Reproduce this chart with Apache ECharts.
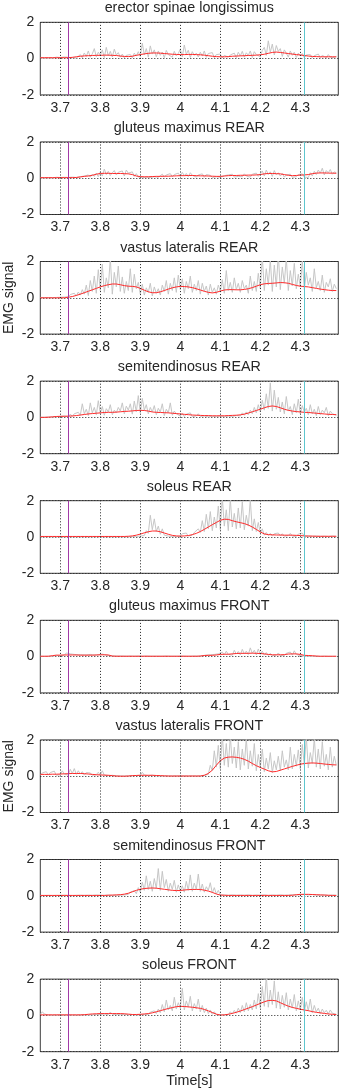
<!DOCTYPE html>
<html>
<head>
<meta charset="utf-8">
<script src="https://cdn.jsdelivr.net/npm/echarts@6.0.0/dist/echarts.min.js"></script>
<style>
  html, body { margin: 0; padding: 0; background: #ffffff; }
  #chart { width: 341px; height: 1092px; }
</style>
</head>
<body>
<div id="chart"></div>
<script>
// Muscle names, one panel each, top to bottom
const muscles = [
  'erector spinae longissimus', 'gluteus maximus REAR', 'vastus lateralis REAR',
  'semitendinosus REAR', 'soleus REAR', 'gluteus maximus FRONT',
  'vastus lateralis FRONT', 'semitendinosus FRONT', 'soleus FRONT'
];

// Time axis
const timeStart = 3.65;
const timeEnd = 4.395;
const rawStep = 0.005;   // rectified EMG sample spacing [s]
const envStep = 0.01;    // envelope sample spacing [s]
const timeTicks = [3.7, 3.8, 3.9, 4.0, 4.1, 4.2, 4.3];
const signalTicks = [-2, 0, 2];
const eventTimes = [3.722, 4.312];

// Rectified EMG (gray), one row per 0.05 s
const rawErector = [
  0.04,0.08,0.02,0.06,0.03,0.07,0.02,0.05,0.08,0.03,
  0.06,0.02,0.09,0.04,0.07,0.02,0.05,0.10,0.03,0.08,
  0.22,0.05,0.31,0.12,0.42,0.08,0.26,0.55,0.10,0.35,
  0.18,0.48,0.06,0.62,0.15,0.40,0.09,0.52,0.20,0.33,
  0.08,0.25,0.04,0.18,0.10,0.22,0.05,0.30,0.14,0.38,
  0.12,0.85,0.20,0.55,0.08,0.70,0.25,0.48,0.10,0.42,
  0.18,0.36,0.05,0.45,0.22,0.30,0.08,0.40,0.15,0.28,
  0.52,0.10,0.75,0.24,0.46,0.06,0.38,0.18,0.30,0.09,
  0.35,0.14,0.42,0.07,0.28,0.20,0.33,0.05,0.22,0.12,
  0.25,0.04,0.18,0.28,0.08,0.20,0.12,0.30,0.05,0.35,
  0.15,0.40,0.08,0.32,0.18,0.42,0.06,0.38,0.22,0.30,
  0.10,0.45,0.62,0.18,0.98,0.35,0.80,0.20,0.72,0.40,
  0.55,0.12,0.48,0.30,0.08,0.42,0.18,0.35,0.06,0.30,
  0.15,0.28,0.05,0.20,0.10,0.22,0.04,0.16,0.08,0.25,
  0.06,0.18,0.10,0.04,0.22,0.08,0.15,0.05,0.12
];
const rawGluteusRear = [
  0.02,0.05,0.01,0.04,0.02,0.06,0.01,0.03,0.05,0.02,
  0.04,0.01,0.05,0.02,0.04,0.01,0.06,0.02,0.04,0.01,
  0.08,0.03,0.12,0.05,0.18,0.06,0.22,0.10,0.28,0.08,
  0.35,0.12,0.50,0.20,0.38,0.15,0.30,0.42,0.18,0.33,
  0.22,0.40,0.12,0.45,0.28,0.18,0.35,0.10,0.25,0.06,
  0.12,0.03,0.10,0.05,0.14,0.04,0.12,0.08,0.18,0.05,
  0.15,0.22,0.06,0.18,0.10,0.25,0.08,0.20,0.12,0.28,
  0.10,0.32,0.14,0.26,0.08,0.30,0.16,0.22,0.06,0.18,
  0.12,0.24,0.05,0.20,0.10,0.16,0.04,0.14,0.08,0.12,
  0.05,0.10,0.14,0.04,0.18,0.08,0.22,0.06,0.16,0.10,
  0.20,0.08,0.24,0.12,0.18,0.06,0.22,0.14,0.28,0.10,
  0.25,0.40,0.12,0.45,0.20,0.35,0.10,0.42,0.18,0.30,
  0.12,0.26,0.06,0.18,0.10,0.22,0.05,0.15,0.08,0.20,
  0.10,0.24,0.06,0.16,0.04,0.30,0.12,0.38,0.20,0.45,
  0.28,0.55,0.18,0.42,0.30,0.48,0.22,0.35,0.30
];
const rawVastusRear = [
  0.01,0.02,0.01,0.02,0.01,0.02,0.01,0.03,0.02,0.05,
  0.03,0.08,0.04,0.12,0.06,0.18,0.08,0.25,0.10,0.32,
  0.15,0.45,0.20,0.70,0.12,0.95,0.35,1.20,0.25,1.55,
  0.40,1.85,0.30,1.10,0.55,2.20,0.20,1.40,0.60,1.75,
  0.35,1.15,0.25,0.90,0.40,1.60,0.30,1.30,0.50,0.85,
  0.20,0.75,0.15,0.55,0.30,0.80,0.10,0.60,0.25,0.50,
  0.15,0.70,0.35,0.95,0.20,0.80,0.40,1.10,0.30,1.25,
  0.45,1.05,0.25,0.90,0.50,1.20,0.30,0.75,0.40,0.95,
  0.20,0.80,0.35,0.65,0.15,0.75,0.30,0.55,0.20,0.70,
  0.35,1.00,0.25,1.50,0.40,0.85,0.30,1.10,0.45,0.80,
  0.30,0.95,0.50,0.70,0.25,1.20,0.40,0.90,0.35,1.35,
  0.50,2.30,0.40,1.60,0.70,2.10,0.35,1.80,0.60,2.40,
  0.45,1.70,0.80,2.20,0.40,1.50,0.65,1.90,0.50,1.30,
  0.60,2.10,0.45,1.40,0.70,1.10,0.35,1.60,0.55,0.90,
  0.40,1.25,0.30,0.85,0.60,1.05,0.35,0.75,0.50
];
const rawSemitendRear = [
  0.01,0.02,0.01,0.03,0.02,0.06,0.02,0.10,0.04,0.12,
  0.05,0.15,0.08,0.10,0.03,0.18,0.06,0.20,0.10,0.28,
  0.12,0.75,0.20,0.45,0.10,0.80,0.25,0.55,0.15,0.92,
  0.22,0.60,0.12,0.48,0.30,0.70,0.15,0.40,0.25,0.55,
  0.35,0.80,0.20,0.62,0.40,0.75,0.18,0.90,0.30,1.20,
  0.25,1.05,0.40,0.70,0.20,0.55,0.30,0.65,0.15,0.50,
  0.30,0.75,0.10,0.45,0.25,0.80,0.12,0.35,0.20,0.28,
  0.08,0.22,0.05,0.18,0.10,0.25,0.04,0.15,0.08,0.20,
  0.05,0.14,0.08,0.18,0.03,0.12,0.06,0.16,0.04,0.10,
  0.08,0.15,0.04,0.12,0.07,0.18,0.05,0.14,0.10,0.20,
  0.08,0.25,0.12,0.30,0.15,0.40,0.20,0.55,0.25,0.70,
  0.30,0.95,0.40,1.30,0.50,1.90,0.35,1.50,0.45,1.10,
  0.30,0.85,0.20,1.15,0.35,0.60,0.15,0.75,0.25,1.00,
  0.20,0.65,0.30,0.50,0.15,0.70,0.20,0.45,0.10,0.60,
  0.15,0.40,0.25,0.55,0.10,0.35,0.20,0.30,0.12
];
const rawSoleusRear = [
  0.01,0.02,0.01,0.02,0.01,0.03,0.01,0.02,0.01,0.02,
  0.01,0.02,0.01,0.03,0.01,0.02,0.01,0.02,0.01,0.02,
  0.01,0.02,0.01,0.02,0.01,0.03,0.01,0.02,0.01,0.02,
  0.01,0.02,0.01,0.03,0.01,0.02,0.01,0.02,0.01,0.03,
  0.01,0.02,0.01,0.02,0.01,0.03,0.02,0.05,0.03,0.08,
  0.05,0.15,0.08,0.35,0.20,1.20,0.40,1.00,0.30,0.60,
  0.15,0.45,0.10,0.20,0.05,0.10,0.03,0.06,0.02,0.12,
  0.05,0.18,0.08,0.22,0.05,0.12,0.10,0.25,0.15,0.45,
  0.25,0.90,0.30,1.25,0.45,1.40,0.35,1.10,0.50,1.70,
  0.40,2.20,0.60,1.50,0.35,2.10,0.55,1.30,0.45,1.60,
  0.50,1.95,0.40,1.20,0.60,2.05,0.35,1.00,0.30,0.80,
  0.20,0.45,0.10,0.25,0.08,0.20,0.05,0.18,0.10,0.22,
  0.06,0.18,0.04,0.15,0.08,0.20,0.05,0.12,0.03,0.16,
  0.05,0.22,0.04,0.10,0.06,0.14,0.03,0.08,0.05,0.12,
  0.03,0.09,0.04,0.11,0.02,0.07,0.05,0.13,0.03
];
const rawGluteusFront = [
  0.02,0.03,0.01,0.03,0.02,0.04,0.02,0.03,0.06,0.08,
  0.05,0.12,0.08,0.20,0.10,0.15,0.06,0.12,0.08,0.10,
  0.05,0.10,0.04,0.09,0.06,0.12,0.03,0.08,0.05,0.10,
  0.06,0.14,0.05,0.08,0.02,0.04,0.01,0.03,0.02,0.03,
  0.01,0.03,0.02,0.02,0.01,0.03,0.01,0.02,0.01,0.03,
  0.01,0.02,0.01,0.03,0.01,0.02,0.01,0.02,0.01,0.02,
  0.01,0.02,0.01,0.03,0.01,0.02,0.01,0.02,0.01,0.02,
  0.01,0.03,0.01,0.02,0.01,0.02,0.01,0.03,0.01,0.02,
  0.02,0.05,0.03,0.08,0.04,0.10,0.05,0.12,0.06,0.15,
  0.08,0.25,0.10,0.30,0.12,0.22,0.08,0.35,0.14,0.28,
  0.10,0.40,0.15,0.30,0.12,0.48,0.18,0.35,0.10,0.42,
  0.12,0.30,0.08,0.22,0.06,0.18,0.05,0.15,0.08,0.20,
  0.06,0.14,0.05,0.18,0.10,0.25,0.08,0.32,0.12,0.20,
  0.05,0.10,0.03,0.06,0.02,0.04,0.01,0.03,0.02,0.04,
  0.01,0.03,0.02,0.02,0.01,0.03,0.01,0.02,0.01
];
const rawVastusFront = [
  0.05,0.18,0.08,0.25,0.06,0.20,0.10,0.28,0.05,0.15,
  0.08,0.30,0.12,0.22,0.06,0.38,0.15,0.42,0.10,0.30,
  0.12,0.25,0.06,0.20,0.10,0.18,0.05,0.15,0.08,0.22,
  0.05,0.30,0.06,0.12,0.03,0.10,0.05,0.08,0.02,0.06,
  0.02,0.05,0.01,0.04,0.02,0.08,0.03,0.12,0.04,0.10,
  0.05,0.22,0.06,0.14,0.03,0.10,0.05,0.08,0.02,0.06,
  0.02,0.05,0.01,0.04,0.02,0.03,0.01,0.05,0.02,0.04,
  0.01,0.03,0.02,0.04,0.01,0.03,0.02,0.05,0.01,0.03,
  0.02,0.06,0.05,0.15,0.10,0.60,0.30,1.40,0.50,1.70,
  0.40,2.30,0.60,1.80,0.50,2.20,0.70,1.60,0.45,1.90,
  0.35,1.50,0.60,2.10,0.40,1.40,0.55,1.80,0.30,1.20,
  0.45,1.50,0.25,1.00,0.40,1.30,0.20,0.85,0.35,1.10,
  0.30,1.40,0.50,0.90,0.35,1.60,0.40,1.20,0.55,1.45,
  0.40,1.75,0.60,2.20,0.45,1.30,0.70,2.10,0.50,1.50,
  0.40,1.90,0.55,1.20,0.35,1.60,0.50,1.10,0.60
];
const rawSemitendFront = [
  0.02,0.04,0.01,0.03,0.02,0.05,0.01,0.04,0.02,0.06,
  0.02,0.05,0.03,0.07,0.02,0.04,0.01,0.06,0.02,0.04,
  0.03,0.06,0.02,0.05,0.03,0.08,0.02,0.06,0.04,0.10,
  0.03,0.07,0.02,0.05,0.04,0.09,0.02,0.06,0.03,0.08,
  0.04,0.10,0.05,0.14,0.08,0.20,0.10,0.28,0.12,0.45,
  0.20,0.75,0.30,1.10,0.35,0.80,0.25,0.95,0.40,1.50,
  0.30,1.35,0.45,0.90,0.25,0.70,0.35,0.85,0.20,0.60,
  0.25,0.55,0.20,0.80,0.30,1.15,0.25,0.70,0.35,1.20,
  0.25,0.65,0.20,0.50,0.30,0.72,0.15,0.45,0.10,0.30,
  0.05,0.12,0.04,0.08,0.03,0.10,0.05,0.12,0.03,0.09,
  0.04,0.11,0.03,0.08,0.05,0.13,0.02,0.07,0.04,0.10,
  0.03,0.09,0.05,0.12,0.02,0.08,0.04,0.11,0.03,0.07,
  0.05,0.12,0.03,0.09,0.04,0.14,0.06,0.10,0.04,0.12,
  0.06,0.15,0.08,0.12,0.05,0.16,0.07,0.11,0.04,0.10,
  0.03,0.08,0.05,0.12,0.02,0.07,0.04,0.09,0.03
];
const rawSoleusFront = [
  0.05,0.20,0.08,0.12,0.02,0.05,0.01,0.03,0.02,0.04,
  0.01,0.03,0.02,0.04,0.01,0.03,0.02,0.05,0.01,0.03,
  0.02,0.04,0.03,0.06,0.02,0.08,0.04,0.10,0.05,0.12,
  0.05,0.15,0.08,0.12,0.04,0.18,0.06,0.14,0.05,0.10,
  0.04,0.12,0.06,0.15,0.03,0.10,0.05,0.08,0.02,0.06,
  0.03,0.08,0.05,0.12,0.04,0.18,0.08,0.25,0.10,0.35,
  0.15,0.60,0.20,0.85,0.30,0.55,0.25,1.00,0.35,0.70,
  0.40,1.50,0.30,0.80,0.45,1.05,0.25,0.65,0.35,0.90,
  0.20,0.55,0.15,0.40,0.10,0.30,0.06,0.20,0.04,0.10,
  0.02,0.06,0.03,0.10,0.05,0.20,0.08,0.28,0.12,0.40,
  0.15,0.55,0.20,0.70,0.25,0.60,0.30,0.85,0.35,1.20,
  0.40,1.60,0.50,2.20,0.45,1.40,0.60,1.90,0.40,1.30,
  0.35,1.10,0.45,1.25,0.30,0.90,0.40,1.15,0.25,0.80,
  0.30,1.00,0.20,0.75,0.25,0.90,0.15,0.55,0.20,0.40,
  0.10,0.35,0.15,0.28,0.08,0.30,0.12,0.20,0.06
];

// Linear envelopes (red), one row per 0.1 s
const envErector = [
  0.05,0.05,0.05,0.05,0.05,0.05,0.05,0.05,0.07,0.10,
  0.13,0.15,0.16,0.17,0.18,0.18,0.19,0.19,0.18,0.17,
  0.14,0.12,0.11,0.13,0.18,0.22,0.26,0.29,0.31,0.31,
  0.30,0.28,0.26,0.24,0.23,0.22,0.22,0.23,0.23,0.22,
  0.21,0.19,0.16,0.13,0.11,0.10,0.10,0.11,0.13,0.14,
  0.15,0.16,0.17,0.18,0.19,0.21,0.24,0.29,0.34,0.36,
  0.34,0.31,0.28,0.25,0.22,0.20,0.17,0.14,0.12,0.11,
  0.10,0.10,0.10,0.10,0.10
];
const envGluteusRear = [
  0.03,0.03,0.03,0.03,0.03,0.03,0.03,0.03,0.03,0.04,
  0.07,0.10,0.12,0.16,0.22,0.26,0.27,0.27,0.26,0.26,
  0.26,0.25,0.24,0.20,0.12,0.09,0.08,0.08,0.09,0.10,
  0.10,0.11,0.11,0.12,0.13,0.14,0.14,0.15,0.15,0.14,
  0.13,0.13,0.12,0.11,0.10,0.10,0.12,0.14,0.15,0.15,
  0.16,0.16,0.17,0.17,0.18,0.20,0.24,0.26,0.26,0.25,
  0.24,0.20,0.16,0.14,0.15,0.17,0.18,0.20,0.25,0.28,
  0.29,0.29,0.28,0.28,0.27
];
const envVastusRear = [
  0.00,0.00,0.00,0.00,0.00,0.00,0.00,0.03,0.07,0.13,
  0.20,0.28,0.36,0.44,0.52,0.60,0.67,0.72,0.76,0.76,
  0.72,0.67,0.64,0.63,0.60,0.52,0.42,0.33,0.28,0.28,
  0.33,0.40,0.48,0.55,0.60,0.63,0.62,0.60,0.56,0.50,
  0.43,0.36,0.30,0.27,0.30,0.37,0.43,0.45,0.45,0.44,
  0.44,0.46,0.50,0.56,0.64,0.72,0.77,0.79,0.80,0.82,
  0.84,0.83,0.80,0.74,0.68,0.64,0.62,0.60,0.56,0.52,
  0.48,0.45,0.42,0.40,0.40
];
const envSemitendRear = [
  0.00,0.00,0.01,0.03,0.05,0.06,0.06,0.07,0.08,0.10,
  0.13,0.16,0.19,0.21,0.23,0.25,0.27,0.28,0.28,0.29,
  0.31,0.33,0.34,0.36,0.38,0.39,0.38,0.35,0.30,0.28,
  0.27,0.26,0.25,0.23,0.21,0.19,0.17,0.15,0.13,0.12,
  0.11,0.10,0.10,0.09,0.09,0.09,0.09,0.10,0.11,0.12,
  0.14,0.18,0.24,0.31,0.38,0.45,0.53,0.60,0.63,0.60,
  0.53,0.45,0.39,0.35,0.32,0.30,0.28,0.27,0.25,0.23,
  0.21,0.19,0.17,0.16,0.15
];
const envSoleusRear = [
  0.03,0.03,0.03,0.03,0.03,0.03,0.03,0.03,0.03,0.03,
  0.03,0.03,0.03,0.03,0.03,0.03,0.03,0.03,0.03,0.03,
  0.03,0.03,0.04,0.06,0.10,0.16,0.23,0.29,0.33,0.33,
  0.29,0.22,0.15,0.09,0.06,0.05,0.06,0.08,0.13,0.20,
  0.30,0.42,0.55,0.68,0.80,0.92,0.98,0.97,0.90,0.84,
  0.79,0.74,0.66,0.55,0.42,0.28,0.17,0.13,0.12,0.11,
  0.11,0.10,0.10,0.10,0.09,0.08,0.06,0.05,0.05,0.04,
  0.04,0.04,0.04,0.04,0.04
];
const envGluteusFront = [
  0.02,0.02,0.02,0.05,0.08,0.08,0.09,0.09,0.09,0.09,
  0.08,0.08,0.08,0.08,0.09,0.10,0.10,0.09,0.03,0.02,
  0.02,0.02,0.02,0.02,0.02,0.02,0.02,0.02,0.02,0.02,
  0.02,0.02,0.02,0.02,0.02,0.02,0.02,0.02,0.02,0.02,
  0.03,0.06,0.07,0.07,0.09,0.12,0.13,0.13,0.15,0.17,
  0.18,0.18,0.18,0.19,0.18,0.17,0.15,0.12,0.10,0.10,
  0.10,0.11,0.14,0.15,0.15,0.12,0.07,0.06,0.05,0.03,
  0.02,0.02,0.02,0.02,0.02
];
const envVastusFront = [
  0.10,0.10,0.10,0.11,0.11,0.12,0.13,0.14,0.15,0.15,
  0.15,0.14,0.12,0.10,0.08,0.07,0.06,0.05,0.03,0.01,
  0.00,0.00,0.01,0.03,0.04,0.05,0.05,0.05,0.05,0.04,
  0.03,0.02,0.01,0.01,0.01,0.01,0.01,0.01,0.01,0.01,
  0.01,0.05,0.15,0.33,0.60,0.85,1.00,1.05,1.06,1.04,
  1.00,0.93,0.83,0.70,0.58,0.48,0.39,0.30,0.24,0.26,
  0.33,0.40,0.47,0.54,0.60,0.66,0.70,0.72,0.73,0.72,
  0.70,0.67,0.65,0.63,0.62
];
const envSemitendFront = [
  0.02,0.02,0.02,0.02,0.02,0.02,0.02,0.02,0.02,0.02,
  0.02,0.02,0.02,0.02,0.02,0.02,0.02,0.03,0.04,0.05,
  0.06,0.09,0.14,0.22,0.30,0.36,0.40,0.42,0.43,0.42,
  0.39,0.36,0.33,0.30,0.29,0.29,0.32,0.34,0.35,0.35,
  0.35,0.31,0.26,0.19,0.10,0.04,0.03,0.02,0.02,0.02,
  0.02,0.02,0.02,0.02,0.02,0.02,0.02,0.02,0.02,0.02,
  0.02,0.02,0.02,0.03,0.06,0.08,0.08,0.08,0.07,0.06,
  0.05,0.04,0.03,0.02,0.02
];
const envSoleusFront = [
  0.03,0.03,0.03,0.03,0.03,0.03,0.03,0.03,0.03,0.03,
  0.03,0.04,0.06,0.08,0.09,0.10,0.10,0.10,0.10,0.10,
  0.10,0.09,0.07,0.05,0.05,0.06,0.08,0.10,0.14,0.20,
  0.26,0.32,0.38,0.43,0.48,0.50,0.49,0.47,0.45,0.42,
  0.39,0.33,0.25,0.16,0.07,0.02,0.03,0.06,0.11,0.17,
  0.24,0.32,0.40,0.48,0.57,0.66,0.75,0.82,0.83,0.80,
  0.70,0.60,0.51,0.44,0.39,0.34,0.30,0.26,0.21,0.17,
  0.14,0.11,0.08,0.06,0.05
];

const rawSignals = [rawErector, rawGluteusRear, rawVastusRear, rawSemitendRear, rawSoleusRear,
  rawGluteusFront, rawVastusFront, rawSemitendFront, rawSoleusFront];
const envelopes = [envErector, envGluteusRear, envVastusRear, envSemitendRear, envSoleusRear,
  envGluteusFront, envVastusFront, envSemitendFront, envSoleusFront];
const yLabelPanels = [2, 6];   // panels carrying the "EMG signal" label

// ---- layout ----
const FONT = '"Liberation Sans", Arial, Helvetica, sans-serif';
const TEXT = '#262626';
const plotLeft = 40.3, plotWidth = 298;
const firstTop = 22.3, pitch = 119.6, plotHeight = 72.6;

function toPairs(values, step) {
  return values.map((v, k) => [+(timeStart + k * step).toFixed(4), v]);
}

const grids = [], xAxes = [], yAxes = [], series = [], graphics = [];

muscles.forEach((name, i) => {
  const top = firstTop + pitch * i;
  grids.push({
    left: plotLeft, top: top, width: plotWidth, height: plotHeight,
    show: true, backgroundColor: '#ffffff', borderColor: '#3d3d3d', borderWidth: 1
  });
  xAxes.push({
    type: 'value', gridIndex: i, min: timeStart, max: timeEnd,
    interval: 0.05,
    axisLine: { show: false }, axisTick: { show: false }, splitLine: { show: false },
    axisLabel: {
      margin: 6, fontSize: 14, color: TEXT, fontFamily: FONT,
      showMinLabel: false, showMaxLabel: false,
      formatter: v => {
        const r = Math.round(v * 100);
        return r % 10 === 0 ? String(r / 100) : '';
      }
    }
  });
  yAxes.push({
    type: 'value', gridIndex: i, min: signalTicks[0], max: signalTicks[2], interval: 2,
    axisLine: { show: false }, axisTick: { show: false },
    splitLine: { show: true, lineStyle: { color: '#222222', width: 1, type: [1, 2] } },
    axisLabel: { margin: 6, fontSize: 14, color: TEXT, fontFamily: FONT, padding: [4, 0, 0, 0] }
  });
  series.push({
    type: 'line', xAxisIndex: i, yAxisIndex: i, z: 2,
    data: toPairs(rawSignals[i], rawStep),
    showSymbol: false, symbol: 'none', clip: true, silent: true,
    lineStyle: { color: '#c6c6c6', width: 1 },
    markLine: {
      silent: true, symbol: 'none', animation: false,
      label: { show: false },
      lineStyle: { color: '#222222', width: 1, type: [1, 2] },
      data: timeTicks.map(t => ({ xAxis: t }))
    }
  });
  series.push({
    type: 'line', xAxisIndex: i, yAxisIndex: i, z: 3,
    data: toPairs(envelopes[i], envStep),
    showSymbol: false, symbol: 'none', clip: true, silent: true,
    lineStyle: { color: '#ff2a2a', width: 1 },
    markLine: {
      silent: true, symbol: 'none', animation: false,
      label: { show: false },
      data: [
        { xAxis: eventTimes[0], lineStyle: { color: '#a33aa8', width: 1, type: 'solid' } },
        { xAxis: eventTimes[1], lineStyle: { color: '#5ec6cf', width: 1, type: 'solid' } }
      ]
    }
  });
  graphics.push({
    type: 'text', x: plotLeft + plotWidth / 2, y: top - 13.8, silent: true,
    style: { text: name, font: '14.3px ' + FONT, fill: TEXT, align: 'center', verticalAlign: 'middle' }
  });
  if (yLabelPanels.includes(i)) {
    graphics.push({
      type: 'text', x: 9, y: top + plotHeight / 2, rotation: Math.PI / 2, silent: true,
      style: { text: 'EMG signal', font: '14px ' + FONT, fill: TEXT, align: 'center', verticalAlign: 'middle' }
    });
  }
});

graphics.push({
  type: 'text', x: plotLeft + plotWidth / 2, y: firstTop + pitch * 8 + plotHeight + 29.5, silent: true,
  style: { text: 'Time[s]', font: '14.3px ' + FONT, fill: TEXT, align: 'center', verticalAlign: 'middle' }
});

const chart = echarts.init(document.getElementById('chart'), null, { renderer: 'canvas' });
chart.setOption({
  animation: false,
  backgroundColor: '#ffffff',
  grid: grids,
  xAxis: xAxes,
  yAxis: yAxes,
  series: series,
  graphic: graphics
});
</script>
</body>
</html>
